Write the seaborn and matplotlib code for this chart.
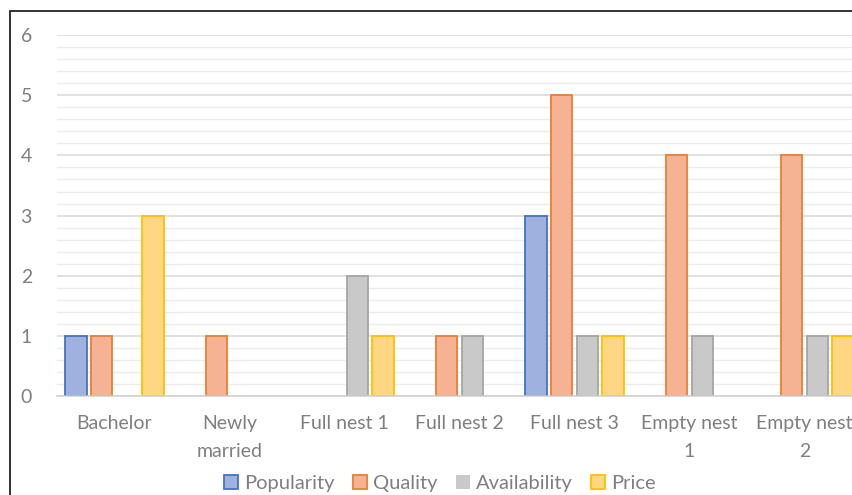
import matplotlib
matplotlib.use("Agg")
import matplotlib.pyplot as plt
from matplotlib.patches import Rectangle
from matplotlib.ticker import MultipleLocator
import pandas as pd
import seaborn as sns

stages = ["Bachelor", "Newly\nmarried", "Full nest 1", "Full nest 2",
          "Full nest 3", "Empty nest\n1", "Empty nest\n2"]
popularity = [1, 0, 0, 0, 3, 0, 0]
quality = [1, 1, 0, 1, 5, 4, 4]
availability = [0, 0, 2, 1, 1, 1, 1]
price = [3, 0, 1, 0, 1, 0, 1]

series_names = ["Popularity", "Quality", "Availability", "Price"]
fills = ["#9fb1de", "#f5b393", "#c9c9c9", "#ffd783"]
edges = ["#4472c4", "#ed7d31", "#a5a5a5", "#ffc000"]

df = pd.DataFrame({
    "stage": stages * 4,
    "series": sum([[s] * len(stages) for s in series_names], []),
    "value": popularity + quality + availability + price,
})

sns.set_theme(style="white")
plt.rcParams["font.family"] = ["Lato", "DejaVu Sans"]
text_color = "#7f7f7f"

fig = plt.figure(figsize=(8.53, 4.95), dpi=100)
ax = fig.add_axes([57 / 853, 0.2, 805 / 853, 0.729])

sns.barplot(data=df, x="stage", y="value", hue="series", order=stages,
            hue_order=series_names, palette=fills, width=0.89, gap=0.16,
            saturation=1, ax=ax, errorbar=None)

for cont, ec in zip(ax.containers, edges):
    for bar in cont:
        bar.set_edgecolor(ec)
        bar.set_linewidth(1.3 if bar.get_height() > 0 else 0)

ax.set_xlim(-0.5, len(stages) - 0.5)
ax.set_ylim(0, 6)
ax.yaxis.set_major_locator(MultipleLocator(1))
ax.yaxis.set_minor_locator(MultipleLocator(0.2))
ax.grid(which="major", axis="y", color="#d9d9d9", linewidth=1.1)
ax.grid(which="minor", axis="y", color="#ebebeb", linewidth=1.0)
ax.set_axisbelow(True)
for side in ["top", "right", "left"]:
    ax.spines[side].set_visible(False)
ax.spines["bottom"].set_color("#d0d0d0")
ax.spines["bottom"].set_linewidth(1.1)
ax.tick_params(axis="both", which="both", length=0, labelsize=14,
               labelcolor=text_color)
ax.tick_params(axis="y", pad=18)
ax.tick_params(axis="x", pad=14)
for lbl in ax.get_xticklabels():
    lbl.set_linespacing(1.75)
ax.set_xlabel("")
ax.set_ylabel("")
ax.legend_.remove()

fig.legend(ax.containers, series_names, loc="center", ncol=4,
           bbox_to_anchor=(440 / 853, 0.024), frameon=False,
           fontsize=14.5, labelcolor=text_color, handlelength=0.7,
           handleheight=0.7, handletextpad=0.3, columnspacing=0.9,
           borderaxespad=0)

# chart area outline
fig.patches.append(Rectangle((10 / 853, -0.1), 1.2, (495 - 11) / 495 + 0.1,
                             transform=fig.transFigure, fill=False,
                             edgecolor="#222222", linewidth=1.3))

fig.savefig("out.png", dpi=100)
